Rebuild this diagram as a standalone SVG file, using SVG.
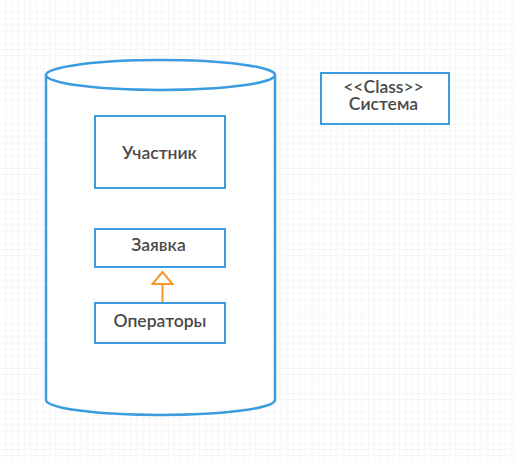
<svg xmlns="http://www.w3.org/2000/svg" width="516" height="462" viewBox="0 0 516 462">
<defs>
<pattern id="grid" width="6.25" height="6.25" patternUnits="userSpaceOnUse">
<path d="M6.25,0 V6.25 M0,6.25 H6.25" fill="none" stroke="#ededed" stroke-width="1"/>
</pattern>
<style>
.box{fill:#fff;stroke:#3b9ddd;stroke-width:2}
.cyl{fill:#fff;stroke:#3b9ddd;stroke-width:2.5}
.t{font-family:Lato,"Liberation Sans",sans-serif;font-weight:600;font-size:17.5px;fill:#4a4a4a;text-anchor:middle}
</style>
</defs>
<rect width="516" height="462" fill="#fff"/>
<rect width="516" height="462" fill="url(#grid)"/>
<g id="cylinder">
<path class="cyl" d="M46,75 L46,400 A114.5,15 0 0 0 275,400 L275,75"/>
<ellipse class="cyl" cx="160.5" cy="75" rx="114.5" ry="15"/>
</g>
<g id="uchastnik">
<rect class="box" x="95" y="116" width="130" height="72"/>
<text class="t" x="159.5" y="159">Участник</text>
</g>
<g id="zayavka">
<rect class="box" x="95" y="229" width="130" height="38"/>
<text class="t" x="158.5" y="251">Заявка</text>
</g>
<g id="operatory">
<rect class="box" x="95" y="303" width="130" height="40"/>
<text class="t" x="160" y="327">Операторы</text>
</g>
<g id="sistema">
<rect class="box" x="321" y="73" width="128" height="51"/>
<text class="t" x="383.5" y="93">&lt;&lt;Class&gt;&gt;</text>
<text class="t" x="383.5" y="110">Система</text>
</g>
<g id="connectors">
<line x1="162.5" y1="302" x2="162.5" y2="284" stroke="#f7962e" stroke-width="2"/>
<polygon points="162.5,272 152.5,284 172.5,284" fill="#fff" stroke="#f7962e" stroke-width="2"/>
</g>
</svg>
